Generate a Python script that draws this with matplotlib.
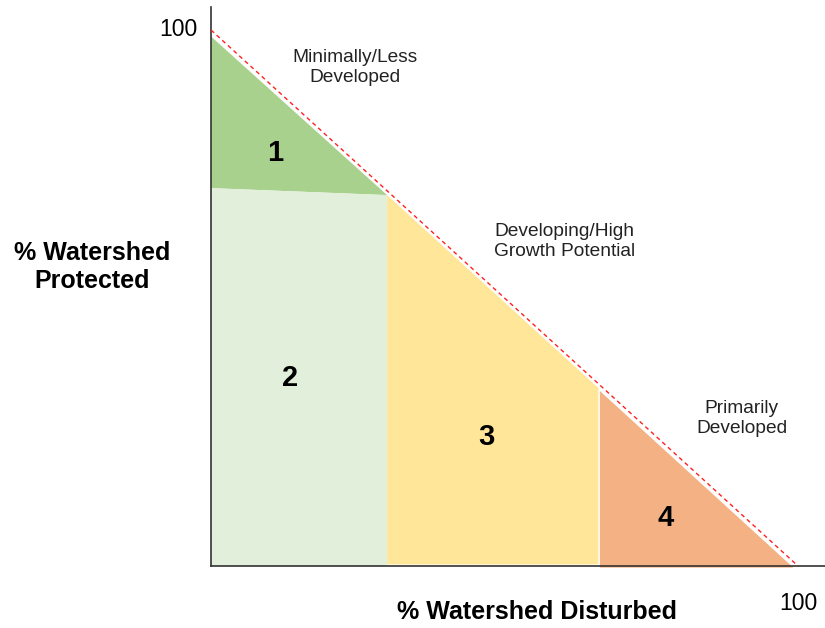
import matplotlib
matplotlib.use("Agg")
import matplotlib.pyplot as plt
import numpy as np

plt.rcParams['font.family'] = ['Liberation Sans', 'DejaVu Sans']

# Data
diag_x = [0, 100]          # % watershed disturbed
diag_y = [100, 0]          # % watershed protected
breaks = [0, 30, 66, 100]  # x boundaries between zones
protect_break = 70         # y boundary between zone 1 and 2
zone_labels = ["1", "2", "3", "4"]
zone_label_pos = [(11, 77), (13.5, 35), (47, 24), (77.5, 9)]
zone_colors = ["#A9D18E", "#E2EFDA", "#FFE699", "#F4B183"]
zone_names = ["Minimally/Less\nDeveloped", "Developing/High\nGrowth Potential", "Primarily\nDeveloped"]
zone_name_pos = [(24.5, 93), (60.2, 60.5), (90.4, 27.5)]
gap = 0.8

fig = plt.figure(figsize=(8.25, 6.28), dpi=100)
ax = fig.add_axes([211/825, 62/628, 614/825, 559/628])
ax.set_xlim(0, 614/587*100)
ax.set_ylim(0, 559/536*100)

def top(x):
    return 100 - np.asarray(x) - gap

# Zone 1 (triangle above protect_break)
ax.fill([0, 0, breaks[1]], [top(0) - 0.4, protect_break + 0.5, top(breaks[1])],
        color=zone_colors[0], lw=0)
# Zone 2 rectangle
ax.fill([0, breaks[1], breaks[1], 0], [0, 0, top(breaks[1]), protect_break + 0.5],
        color=zone_colors[1], lw=0)
# Zone 3
ax.fill([breaks[1], breaks[2], breaks[2], breaks[1]],
        [0.3, 0.3, top(breaks[2]), top(breaks[1])], color=zone_colors[2], lw=0)
# Zone 4
ax.fill([breaks[2] + 0.25, breaks[3] - gap, breaks[2] + 0.25],
        [-0.3, -0.3, top(breaks[2] + 0.25) - 0.3], color=zone_colors[3], lw=0, clip_on=False)

ax.plot(diag_x, diag_y, color="#FF2020", lw=1.0, ls=(0, (3, 2.5)), zorder=5)

for lab, (x, y) in zip(zone_labels, zone_label_pos):
    ax.text(x, y, lab, ha="center", va="center", fontsize=21, fontweight="bold", color="black")
for lab, (x, y) in zip(zone_names, zone_name_pos):
    ax.text(x, y, lab, ha="center", va="center", fontsize=13.8, color="#222222", linespacing=1.25)

for s in ["top", "right"]:
    ax.spines[s].set_visible(False)
for s in ["left", "bottom"]:
    ax.spines[s].set_color("#333333")
    ax.spines[s].set_linewidth(1.2)

ax.set_xticks([100])
ax.set_xticklabels(["100"], fontsize=16.5)
ax.set_yticks([100.5])
ax.set_yticklabels(["100"], fontsize=16.5)
ax.tick_params(axis="x", length=0, pad=19)
ax.tick_params(axis="y", length=0, pad=10)

fig.text(92/825, 1 - 267/628, "% Watershed\nProtected", ha="center", va="center",
         fontsize=18, fontweight="bold", linespacing=1.2)
fig.text(537/825, 1 - 612/628, "% Watershed Disturbed", ha="center", va="center",
         fontsize=18, fontweight="bold")

fig.savefig("out.png", dpi=100)
